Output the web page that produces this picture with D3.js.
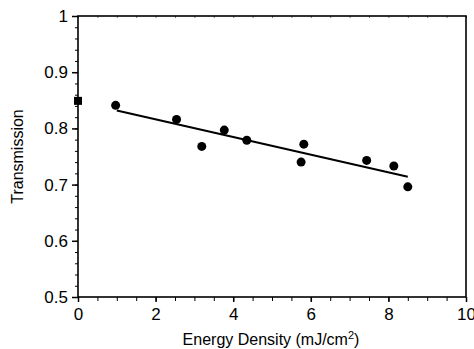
<!DOCTYPE html>
<html>
<head>
<meta charset="utf-8">
<script src="https://cdn.jsdelivr.net/npm/d3@7"></script>
<style>
  body { margin: 0; background: #fff; }
  svg { display: block; font-family: "Liberation Sans", Arial, sans-serif; }
</style>
</head>
<body>
<script>
// measured points (circles)
const energy = [0.97, 2.54, 3.19, 3.77, 4.35, 5.75, 5.82, 7.44, 8.14, 8.50];
const transmission = [0.841, 0.816, 0.768, 0.797, 0.779, 0.740, 0.772, 0.743, 0.733, 0.696];
// unexposed reference (square)
const refEnergy = [0];
const refTransmission = [0.849];
// straight fit line
const fitEnergy = [1.0, 8.5];
const fitTransmission = [0.832, 0.714];
const xTicks = [0, 2, 4, 6, 8, 10];
const yTicks = [0.5, 0.6, 0.7, 0.8, 0.9, 1];

const width = 474, height = 349;
const margin = {top: 16, right: 8, bottom: 52, left: 78};

const svg = d3.select('body').append('svg')
    .attr('width', width)
    .attr('height', height);

const x = d3.scaleLinear().domain([0, 10]).range([margin.left, width - margin.right]);
const y = d3.scaleLinear().domain([0.5, 1]).range([height - margin.bottom, margin.top]);

// minor ticks
svg.append('g')
    .attr('transform', `translate(0,${y(0.5)})`)
    .call(d3.axisBottom(x).tickValues(d3.range(0, 10.01, 0.5)).tickSize(4).tickFormat(''))
    .call(g => g.select('.domain').remove());
svg.append('g')
    .attr('transform', `translate(${x(0)},0)`)
    .call(d3.axisLeft(y).tickValues(d3.range(0.5, 1.001, 0.02)).tickSize(3).tickFormat(''))
    .call(g => g.select('.domain').remove());
svg.append('g')
    .attr('transform', `translate(0,${y(1)})`)
    .call(d3.axisBottom(x).tickValues(d3.range(0, 10.01, 0.5)).tickSize(2).tickFormat(''))
    .call(g => g.select('.domain').remove())
    .selectAll('line').attr('stroke', '#777');

// major ticks
const xAxis = svg.append('g')
    .attr('transform', `translate(0,${y(0.5)})`)
    .call(d3.axisBottom(x).tickValues(xTicks).tickSize(5).tickPadding(6).tickFormat(d3.format('d')));
const yAxis = svg.append('g')
    .attr('transform', `translate(${x(0)},0)`)
    .call(d3.axisLeft(y).tickValues(yTicks).tickSize(6).tickPadding(4).tickFormat(d => d === 1 ? '1' : d3.format('.1f')(d)));

[xAxis, yAxis].forEach(g => {
    g.select('.domain').remove();
    g.selectAll('line').attr('stroke-width', 1.5);
    g.selectAll('text').attr('font-size', 17).attr('fill', '#000')
        .style('font-family', '"Liberation Sans", Arial, sans-serif');
});

// frame
svg.append('rect')
    .attr('x', x(0)).attr('y', y(1))
    .attr('width', x(10) - x(0)).attr('height', y(0.5) - y(1))
    .attr('fill', 'none').attr('stroke', '#000').attr('stroke-width', 1.6);

// fit line
svg.append('path')
    .datum(d3.zip(fitEnergy, fitTransmission))
    .attr('fill', 'none').attr('stroke', '#000').attr('stroke-width', 2)
    .attr('d', d3.line().x(d => x(d[0])).y(d => y(d[1])));

// points
svg.append('g').selectAll('circle')
    .data(d3.zip(energy, transmission))
    .join('circle')
    .attr('cx', d => x(d[0])).attr('cy', d => y(d[1]))
    .attr('r', 4.5).attr('fill', '#000');

svg.append('g').selectAll('rect')
    .data(d3.zip(refEnergy, refTransmission))
    .join('rect')
    .attr('x', d => x(d[0]) - 4).attr('y', d => y(d[1]) - 4)
    .attr('width', 8).attr('height', 8).attr('fill', '#000');

// axis titles
svg.append('text')
    .attr('x', (x(0) + x(10)) / 2 - 1).attr('y', 345)
    .attr('text-anchor', 'middle').attr('font-size', 16)
    .html('Energy Density (mJ/cm<tspan baseline-shift="super" font-size="11">2</tspan>)');

svg.append('text')
    .attr('transform', `translate(23,${(y(0.5) + y(1)) / 2}) rotate(-90)`)
    .attr('text-anchor', 'middle').attr('font-size', 16)
    .text('Transmission');
</script>
</body>
</html>
